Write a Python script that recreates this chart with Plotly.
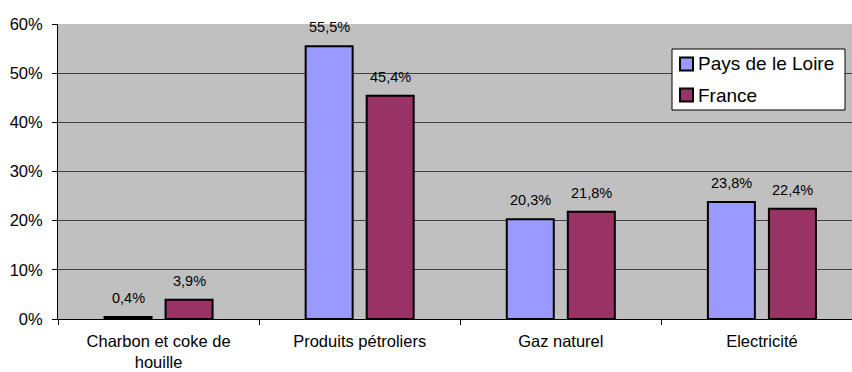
import plotly.graph_objects as go

categories = ["Charbon et coke de<br>houille", "Produits pétroliers", "Gaz naturel", "Electricité"]
series_names = ["Pays de le Loire", "France"]
pays_loire = [0.4, 55.5, 20.3, 23.8]
france = [3.9, 45.4, 21.8, 22.4]
series_colors = ["#9999FF", "#993366"]
y_ticks = [0, 10, 20, 30, 40, 50, 60]
y_tick_labels = ["0%", "10%", "20%", "30%", "40%", "50%", "60%"]

FONT = "Liberation Sans, Arial, sans-serif"
W, H = 852, 372
ML, MR, MT, MB = 58, 0, 24, 53
PW, PH = W - ML - MR, H - MT - MB
BARGAP = 0.393
BARGROUPGAP = 0.23


def fmt(v):
    return f"{v:.1f}%".replace(".", ",")


def px_x(px):
    return (px - ML) / PW


def px_y(py):
    return (H - MB - py) / PH


fig = go.Figure()
annotations = []
slot = (1 - BARGAP) / 2
for k, (name, vals, col) in enumerate(zip(series_names, [pays_loire, france], series_colors)):
    fig.add_trace(go.Bar(
        name=name, x=categories, y=vals,
        marker=dict(color=col, line=dict(color="black", width=2)),
        showlegend=False,
    ))
    # value labels above each bar
    offset = (k - 0.5) * slot
    for i, v in enumerate(vals):
        annotations.append(dict(xref="x", yref="y", x=i + offset, y=v, text=fmt(v),
                                showarrow=False, xanchor="center", yanchor="middle", yshift=19,
                                font=dict(size=14.5, family=FONT, color="black")))

# Boxed legend in the upper right of the plot area
shapes = [dict(type="rect", xref="paper", yref="paper",
               x0=px_x(672), x1=px_x(845), y0=px_y(110), y1=px_y(49),
               fillcolor="white", line=dict(color="black", width=1), layer="above")]
for i, (name, col) in enumerate(zip(series_names, series_colors)):
    cy = 64 + i * 31
    shapes.append(dict(type="rect", xref="paper", yref="paper",
                       x0=px_x(680), x1=px_x(693), y0=px_y(cy + 6.5), y1=px_y(cy - 6.5),
                       fillcolor=col, line=dict(color="black", width=2), layer="above"))
    annotations.append(dict(xref="paper", yref="paper", x=px_x(696), y=px_y(cy),
                            text=name, showarrow=False, xanchor="left", yanchor="middle",
                            font=dict(size=19, family=FONT, color="black")))

fig.update_layout(
    width=W, height=H,
    margin=dict(l=ML, r=MR, t=MT, b=MB, autoexpand=False),
    paper_bgcolor="white", plot_bgcolor="#C0C0C0",
    barmode="group", bargap=BARGAP, bargroupgap=BARGROUPGAP,
    font=dict(family=FONT, size=17, color="black"),
    showlegend=False,
    shapes=shapes, annotations=annotations,
    xaxis=dict(
        range=[-0.5, 3.448], showgrid=False, showline=True, linecolor="black", linewidth=1,
        ticks="outside", tickson="boundaries", ticklen=5, tickcolor="black",
        ticklabelstandoff=7, tickfont=dict(size=16.5, family=FONT), automargin=False,
    ),
    yaxis=dict(
        range=[0, 60], tickvals=y_ticks, ticktext=y_tick_labels,
        showgrid=True, gridcolor="#404040", gridwidth=1,
        showline=True, linecolor="black", linewidth=1,
        ticks="outside", ticklen=5, tickcolor="black", ticklabelstandoff=6,
        tickfont=dict(size=16.5, family=FONT), zeroline=False, automargin=False,
    ),
)

fig.write_html("out.html")
